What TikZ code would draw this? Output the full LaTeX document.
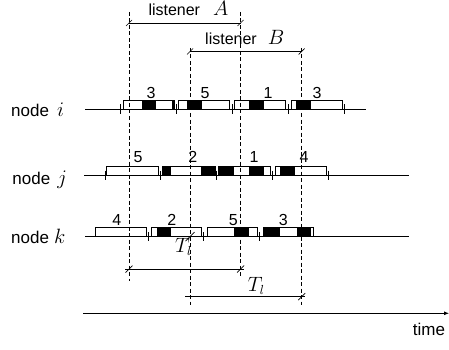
\documentclass[tikz,border=0pt]{standalone}
\usepackage{fontspec}
\usepackage{graphicx}
\setmainfont{Liberation Sans}
\usetikzlibrary{arrows.meta}
\newcommand{\mv}[1]{\scalebox{1.2}{$#1$}}
\tikzset{
  rowline/.style={line width=0.7pt},
  tickmark/.style={line width=0.7pt},
  pktbox/.style={draw, fill=white, line width=0.7pt},
  pktblack/.style={fill=black},
  guide/.style={dashed, dash pattern=on 4pt off 2.5pt, line width=0.7pt},
  span/.style={line width=0.7pt},
  lbl/.style={anchor=base, inner sep=0pt, font=\fontsize{16}{19}\selectfont},
  lblw/.style={anchor=base west, inner sep=0pt, font=\fontsize{16}{19}\selectfont},
  rowlbl/.style={anchor=base west, inner sep=0pt, font=\fontsize{17}{20}\selectfont}
}
\newcommand{\mytick}[2]{\draw[tickmark] (#1,#2-4.5) -- (#1,#2+4.5);}
\newcommand{\myslash}[3]{\draw[span] (#1-#3,#2+#3) -- (#1+#3,#2-#3);}
\begin{document}
\begin{tikzpicture}[x=1pt,y=-1pt]
\useasboundingbox (0,0) rectangle (449,350);
% row labels
\node[rowlbl] (ni) at (11,116.7) {node\hspace{8pt}\mv{i}};
\node[rowlbl] (nj) at (12.3,184) {node\hspace{7pt}\mv{j}};
\node[rowlbl] (nk) at (11,243.3) {node\hspace{5pt}\mv{k}};
% row lines
\coordinate (ia) at (85,109); \coordinate (ib) at (366,109);
\coordinate (ja) at (84,175); \coordinate (jb) at (409,175);
\coordinate (ka) at (85,236.7); \coordinate (kb) at (409,236.7);
\draw[rowline] (ia) -- (ib);
\draw[rowline] (ja) -- (jb);
\draw[rowline] (ka) -- (kb);
% ---- row i ----
\foreach \t in {120,176.5,232.5,288,344} {\mytick{\t}{109}}
\draw[pktbox] (123,100.5) rectangle (174.5,109);
\fill[pktblack] (141.5,100.5) rectangle (156,109);
\fill[pktblack] (171.5,100.5) rectangle (174.5,109);
\draw[pktbox] (178.5,100.5) rectangle (229,109);
\fill[pktblack] (186.7,100.5) rectangle (201.7,109);
\draw[pktbox] (234,100.5) rectangle (285.7,109);
\fill[pktblack] (249,100.5) rectangle (263.7,109);
\draw[pktbox] (291,100.5) rectangle (342,109);
\fill[pktblack] (296,100.5) rectangle (310.7,109);
\node[lbl] (i1) at (151,99) {3};
\node[lbl] (i2) at (205,99) {5};
\node[lbl] (i3) at (268,99) {1};
\node[lbl] (i4) at (317,99) {3};
% ---- row j ----
\foreach \t in {105,160.7,216.7,272.5,328.3} {\mytick{\t}{175}}
\draw[pktbox] (106.7,166.5) rectangle (158.3,175);
\draw[pktbox] (162.3,166.5) rectangle (215,175);
\fill[pktblack] (162.3,166.5) rectangle (171,175);
\fill[pktblack] (201,166.5) rectangle (215,175);
\draw[pktbox] (218.3,166.5) rectangle (270.5,175);
\fill[pktblack] (218.3,166.5) rectangle (234,175);
\fill[pktblack] (249,166.5) rectangle (264,175);
\draw[pktbox] (275,166.5) rectangle (326,175);
\fill[pktblack] (280,166.5) rectangle (295,175);
\node[lbl] (j1) at (138,162) {5};
\node[lbl] (j2) at (192.7,162) {2};
\node[lbl] (j3) at (254,162) {1};
\node[lbl] (j4) at (304,162) {4};
% ---- row k ----
\foreach \t in {148,203.5,259} {\mytick{\t}{236.7}}
\draw[pktbox] (95.7,227.7) rectangle (146.3,236.7);
\draw[pktbox] (151.7,227.7) rectangle (201.7,236.7);
\fill[pktblack] (156.5,227.7) rectangle (171,236.7);
\draw[pktbox] (207.3,227.7) rectangle (257,236.7);
\fill[pktblack] (234.3,227.7) rectangle (249,236.7);
\draw[pktbox] (263,227.7) rectangle (313.3,236.7);
\fill[pktblack] (263,227.7) rectangle (279.5,236.7);
\fill[pktblack] (296.5,227.7) rectangle (311,236.7);
\node[lbl] (k1) at (116.7,225) {4};
\node[lbl] (k2) at (171.7,225) {2};
\node[lbl] (k3) at (233.3,225) {5};
\node[lbl] (k4) at (283.3,225) {3};
% ---- dashed guides ----
\coordinate (g1a) at (129,12);    \coordinate (g1b) at (129,281);
\coordinate (g2a) at (190,48);    \coordinate (g2b) at (190,305);
\coordinate (g3a) at (240.5,12);  \coordinate (g3b) at (240.5,278);
\coordinate (g4a) at (301.7,48);  \coordinate (g4b) at (301.7,305);
\draw[guide] (g1a) -- (g1b);
\draw[guide] (g2a) -- (g2b);
\draw[guide] (g3a) -- (g3b);
\draw[guide] (g4a) -- (g4b);
% listener spans
\coordinate (la1) at (129,23); \coordinate (la2) at (240.5,23);
\draw[span] (la1) -- (la2);
\myslash{129}{23}{3}\myslash{240.5}{23}{3}
\node[lblw] (lA) at (148.3,15.5) {listener\hspace{13pt}\mv{A}};
\coordinate (lb1) at (190,51.5); \coordinate (lb2) at (301.7,51.5);
\draw[span] (lb1) -- (lb2);
\myslash{190}{51.5}{3}\myslash{301.7}{51.5}{3}
\node[lblw] (lB) at (205,44.3) {listener\hspace{11pt}\mv{B}};
% T_l spans
\myslash{190}{236.7}{4.5}
\coordinate (t1a) at (125,269); \coordinate (t1b) at (243.5,269);
\draw[span] (t1a) -- (t1b);
\myslash{129}{269}{3.5}\myslash{240.5}{269}{3.5}
\node[lblw] (T1) at (175,252.7) {\mv{T_l}};
\coordinate (t2a) at (185,296.7); \coordinate (t2b) at (305,296.7);
\draw[span] (t2a) -- (t2b);
\myslash{301.7}{296.7}{3.5}
\node[lblw] (T2) at (247.7,291.7) {\mv{T_l}};
% time axis
\coordinate (ta) at (83,313.3); \coordinate (tb) at (449,313.3);
\draw[line width=0.8pt, -{Latex[length=5pt,width=4pt]}] (ta) -- (tb);
\node[rowlbl] (time) at (412.7,335) {time};
\end{tikzpicture}
\end{document}
